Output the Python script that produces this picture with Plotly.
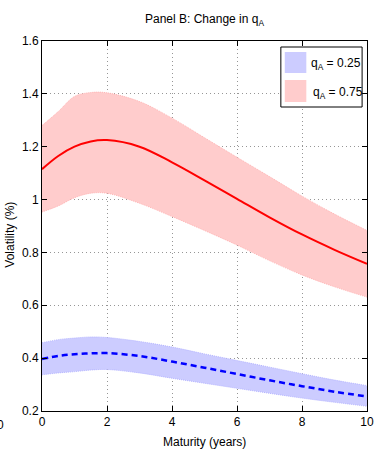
import plotly.graph_objects as go

# ---- data ----
maturity = [0, 0.5, 1, 1.5, 2, 3, 4, 5, 6, 7, 8, 9, 10]

low_mid = [0.397, 0.408, 0.415, 0.418, 0.419, 0.408, 0.387, 0.364, 0.340, 0.316, 0.294, 0.273, 0.255]
low_up = [0.458, 0.470, 0.476, 0.480, 0.478, 0.463, 0.442, 0.416, 0.391, 0.366, 0.341, 0.317, 0.296]
low_dn = [0.337, 0.344, 0.349, 0.355, 0.357, 0.344, 0.324, 0.305, 0.286, 0.267, 0.249, 0.233, 0.218]

high_mid = [1.115, 1.165, 1.200, 1.220, 1.225, 1.200, 1.141, 1.073, 1.003, 0.933, 0.868, 0.810, 0.757]
high_up = [1.280, 1.333, 1.390, 1.405, 1.404, 1.371, 1.308, 1.234, 1.160, 1.087, 1.013, 0.945, 0.883]
high_dn = [0.953, 0.976, 1.007, 1.024, 1.024, 0.986, 0.936, 0.883, 0.828, 0.769, 0.715, 0.670, 0.631]

x_ticks = [0, 2, 4, 6, 8, 10]
y_ticks = [0.2, 0.4, 0.6, 0.8, 1.0, 1.2, 1.4, 1.6]
y_tick_text = ["0.2", "0.4", "0.6", "0.8", "1", "1.2", "1.4", "1.6"]
legend_labels = ["q<sub>A</sub> = 0.25", "q<sub>A</sub> = 0.75"]

FONT = "Liberation Sans, Arial, sans-serif"
FS = 12
BLUE_FILL = "rgb(204,204,255)"
RED_FILL = "rgb(255,204,204)"

fig = go.Figure()

def band(up, dn, fill, edge):
    fig.add_trace(go.Scatter(x=maturity, y=up, mode="lines",
                             line=dict(color=edge, width=1, dash="1px,1px", shape="spline"),
                             hoverinfo="skip", showlegend=False))
    fig.add_trace(go.Scatter(x=maturity, y=dn, mode="lines", fill="tonexty",
                             fillcolor=fill,
                             line=dict(color=edge, width=1, dash="1px,1px", shape="spline"),
                             hoverinfo="skip", showlegend=False))

band(low_up, low_dn, BLUE_FILL, "rgb(180,180,255)")
band(high_up, high_dn, RED_FILL, "rgb(255,180,180)")

fig.add_trace(go.Scatter(x=maturity, y=low_mid, mode="lines",
                         line=dict(color="rgb(0,0,255)", width=2.5, dash="6px,4px", shape="spline"),
                         showlegend=False))
fig.add_trace(go.Scatter(x=maturity, y=high_mid, mode="lines",
                         line=dict(color="rgb(255,0,0)", width=2, shape="spline"),
                         showlegend=False))

axis_common = dict(showline=True, linecolor="black", linewidth=1, mirror="ticks",
                   ticks="inside", ticklen=5, tickcolor="black",
                   showgrid=True, gridcolor="rgb(150,150,150)", griddash="1px,3px", gridwidth=1,
                   zeroline=False, ticklabeloverflow="allow",
                   tickfont=dict(family=FONT, size=FS, color="black"))

fig.update_xaxes(range=[0, 10], tickvals=x_ticks, **axis_common)
fig.update_yaxes(range=[0.2, 1.6], tickvals=y_ticks, ticktext=y_tick_text, **axis_common)

L, R, T, B = 42, 7, 41, 41
W, H = 381, 452
PW, PH = W - L - R, H - T - B

def px(x):
    return (x - L) / PW

def py(y):
    return (H - B - y) / PH

shapes = [
    dict(type="rect", xref="paper", yref="paper", x0=px(286), x1=px(369), y0=py(107), y1=py(47),
         fillcolor="white", line=dict(color="black", width=1), layer="above"),
    dict(type="rect", xref="paper", yref="paper", x0=px(290), x1=px(312), y0=py(73), y1=py(52),
         fillcolor=BLUE_FILL, line=dict(width=0), layer="above"),
    dict(type="rect", xref="paper", yref="paper", x0=px(290), x1=px(312), y0=py(102), y1=py(80),
         fillcolor=RED_FILL, line=dict(width=0), layer="above"),
]

annotations = [
    dict(text=legend_labels[0], xref="paper", yref="paper", x=px(315), y=py(64),
         xanchor="left", yanchor="middle", showarrow=False,
         font=dict(family=FONT, size=FS, color="black")),
    dict(text=legend_labels[1], xref="paper", yref="paper", x=px(317), y=py(93),
         xanchor="left", yanchor="middle", showarrow=False,
         font=dict(family=FONT, size=FS, color="black")),
    dict(text="Panel B: Change in q<sub>A</sub>", xref="paper", yref="paper", x=0.5, y=py(20),
         xanchor="center", yanchor="middle", showarrow=False,
         font=dict(family=FONT, size=FS, color="black")),
    dict(text="Maturity (years)", xref="paper", yref="paper", x=px(208), y=py(442),
         xanchor="center", yanchor="middle", showarrow=False,
         font=dict(family=FONT, size=FS, color="black")),
    dict(text="Volatility (%)", xref="paper", yref="paper", x=px(9), y=py(235),
         xanchor="center", yanchor="middle", showarrow=False, textangle=-90,
         font=dict(family=FONT, size=FS, color="black")),
    dict(text="0", xref="paper", yref="paper", x=px(0), y=py(425),
         xanchor="center", yanchor="middle", showarrow=False,
         font=dict(family=FONT, size=FS, color="black")),
]

fig.update_layout(width=W, height=H, margin=dict(l=L, r=R, t=T, b=B),
                  paper_bgcolor="white", plot_bgcolor="white",
                  shapes=shapes, annotations=annotations, showlegend=False)

fig.write_html("out.html")
